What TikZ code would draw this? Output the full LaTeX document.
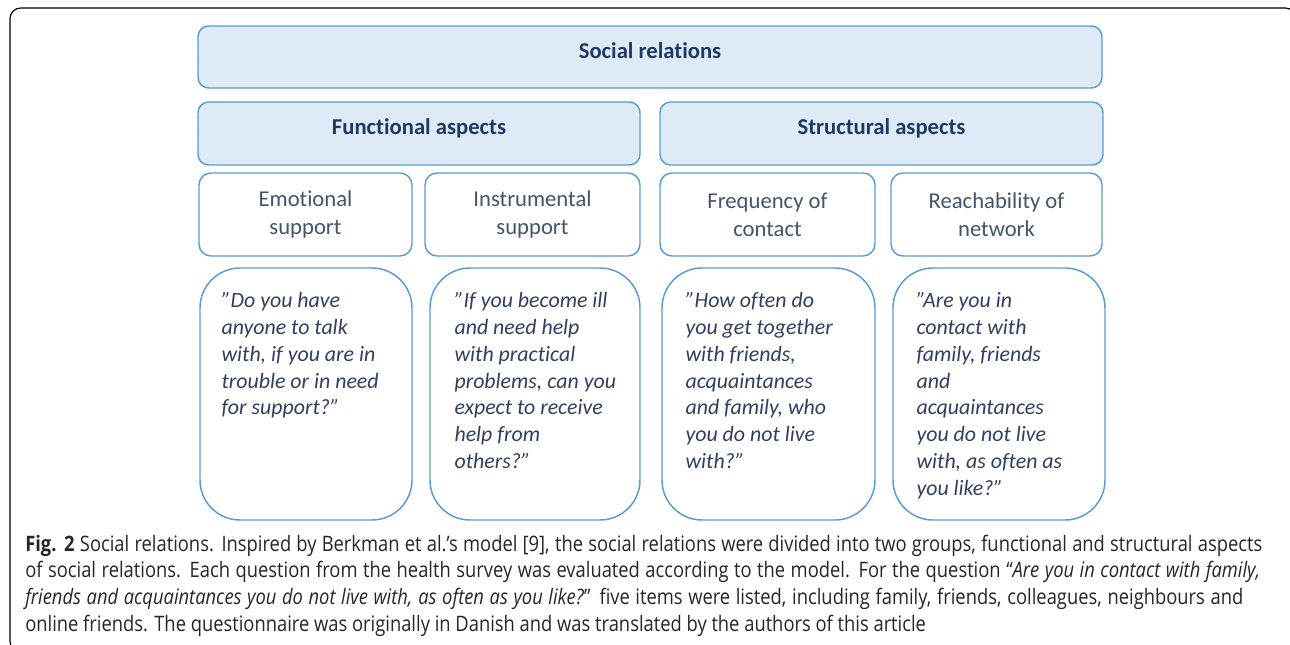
\documentclass[tikz,border=0pt]{standalone}
\usepackage{fontspec}
\setmainfont{Carlito}[Ligatures={TeX,NoCommon}]
\newfontfamily\capfont{Open Sans}[FakeStretch=0.86]
\definecolor{boxline}{HTML}{5B9BD5}
\definecolor{boxfill}{HTML}{DEEBF7}
\definecolor{navy}{HTML}{1F3864}
\definecolor{slate}{HTML}{44546A}
\definecolor{qnavy}{HTML}{323F62}
\begin{document}
\begin{tikzpicture}[x=0.75pt,y=-0.75pt,
		headbox/.style={draw=boxline,fill=boxfill,line width=1.1pt,rounded corners=8pt,
			text height=0.7em,text depth=0.5em,font=\bfseries\fontsize{17}{21}\selectfont,text=navy},
		subbox/.style={draw=boxline,fill=white,line width=1.1pt,rounded corners=9pt,
			font=\fontsize{17}{21}\selectfont,text=slate,align=center},
		qbox/.style={draw=boxline,fill=white,line width=1.1pt,rounded corners=30pt},
		qtext/.style={anchor=north west,inner sep=0pt,align=left,text=qnavy,
			font=\itshape\fontsize{16.4}{20.1}\selectfont}
	]
	\useasboundingbox (0,0) rectangle (1290,645);
	\draw[line width=0.9pt,rounded corners=8pt] (10,8) rectangle (1296,652);
	% top rows
	\node[headbox,minimum width=904*0.75pt,minimum height=62*0.75pt] (social) at (650,57) {Social relations};
	\node[headbox,minimum width=442*0.75pt,minimum height=63*0.75pt] (func) at (419,133.5) {Functional aspects};
	\node[headbox,minimum width=443*0.75pt,minimum height=63*0.75pt] (struct) at (881.5,133.5) {Structural aspects};
	% aspects
	\node[subbox,minimum width=213*0.75pt,minimum height=83*0.75pt] (emo) at (305.5,214.5) {Emotional\\support};
	\node[subbox,minimum width=215*0.75pt,minimum height=83*0.75pt] (instr) at (532.5,214.5) {Instrumental\\support};
	\node[subbox,minimum width=215*0.75pt,minimum height=83*0.75pt] (freq) at (767.5,214.5) {Frequency of\\contact};
	\node[subbox,minimum width=211*0.75pt,minimum height=83*0.75pt] (reach) at (996.5,214.5) {Reachability of\\network};
	% questions
	\node[qbox,minimum width=212*0.75pt,minimum height=252*0.75pt] (emoq) at (306,394) {};
	\node[qbox,minimum width=210*0.75pt,minimum height=252*0.75pt] (instrq) at (535,394) {};
	\node[qbox,minimum width=213*0.75pt,minimum height=252*0.75pt] (freqq) at (768.5,394) {};
	\node[qbox,minimum width=212*0.75pt,minimum height=252*0.75pt] (reachq) at (999,394) {};
	\node[qtext] (emot) at ([shift={(22,25)}]emoq.north west)
		{"Do you have\\anyone to talk\\with, if you are in\\trouble or in need\\for support?"};
	\node[qtext] (instrt) at ([shift={(25,25)}]instrq.north west)
		{"If you become ill\\and need help\\with practical\\problems, can you\\expect to receive\\help from\\others?"};
	\node[qtext] (freqt) at ([shift={(24,25)}]freqq.north west)
		{"How often do\\you get together\\with friends,\\acquaintances\\and family, who\\you do not live\\with?"};
	\node[qtext] (reacht) at ([shift={(24,25)}]reachq.north west)
		{"Are you in\\contact with\\family, friends\\and\\acquaintances\\you do not live\\with, as often as\\you like?"};
	% caption
	\node[anchor=base west,inner sep=0pt,align=left,font=\capfont\fontsize{16}{19.9}\selectfont,text=black!85] (caption) at (25,631)
		{\makebox[927.75pt][s]{\textbf{Fig. 2} Social relations. Inspired by Berkman et al.’s model [9], the social relations were divided into two groups, functional and structural aspects}\\
		\makebox[926.25pt][s]{of social relations. Each question from the health survey was evaluated according to the model. For the question “\textit{Are you in contact with family,}}\\
		\makebox[913.5pt][s]{\textit{friends and acquaintances you do not live with, as often as you like?}” five items were listed, including family, friends, colleagues, neighbours and}\\
		online friends. The questionnaire was originally in Danish and was translated by the authors of this article};
\end{tikzpicture}
\end{document}
